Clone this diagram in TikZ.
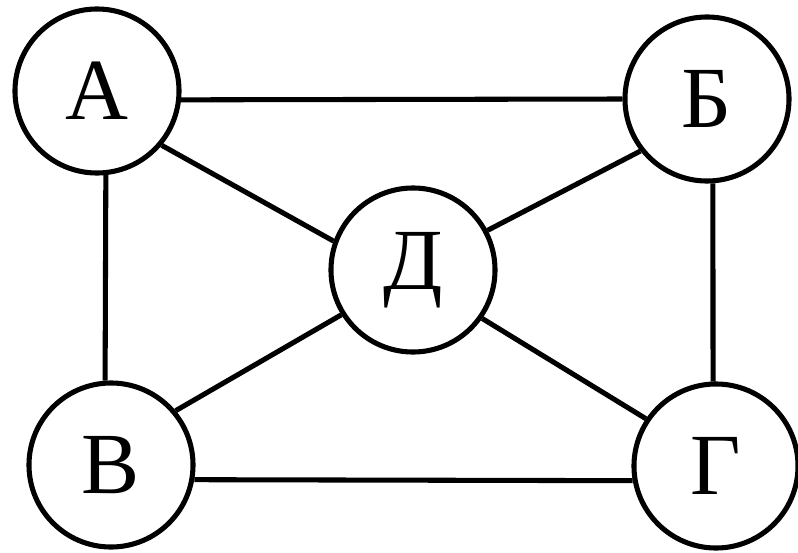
\documentclass[tikz,border=0pt]{standalone}
\usepackage{fontspec}
\setmainfont{Liberation Serif}
\usepackage{tikz}
\tikzset{
  vertex/.style={draw=black, circle, line width=3.6pt, minimum size=4.1cm, inner sep=0pt, font=\fontsize{62}{62}\selectfont},
  edge/.style={line width=3.6pt}
}

\begin{document}
\begin{tikzpicture}[x=0.025cm, y=-0.025cm]
  \useasboundingbox (0,0) rectangle (798,553);
  \node[vertex] (a) at (97,91) {А};
  \node[vertex] (b) at (707,99) {Б};
  \node[vertex] (d) at (413,270) {Д};
  \node[vertex] (v) at (111,465) {В};
  \node[vertex] (g) at (716,466) {Г};

  \draw[edge] (a.-6) -- (b.180);
  \draw[edge] (a.-84) -- (v.94);
  \draw[edge] (b.-86) -- (g.92);
  \draw[edge] (v.-10) -- (g.190);
  \draw[edge] (a.-40) -- (d.160);
  \draw[edge] (d.28) -- (b.218);
  \draw[edge] (d.212) -- (v.40);
  \draw[edge] (d.-35) -- (g.146);
\end{tikzpicture}
\end{document}
